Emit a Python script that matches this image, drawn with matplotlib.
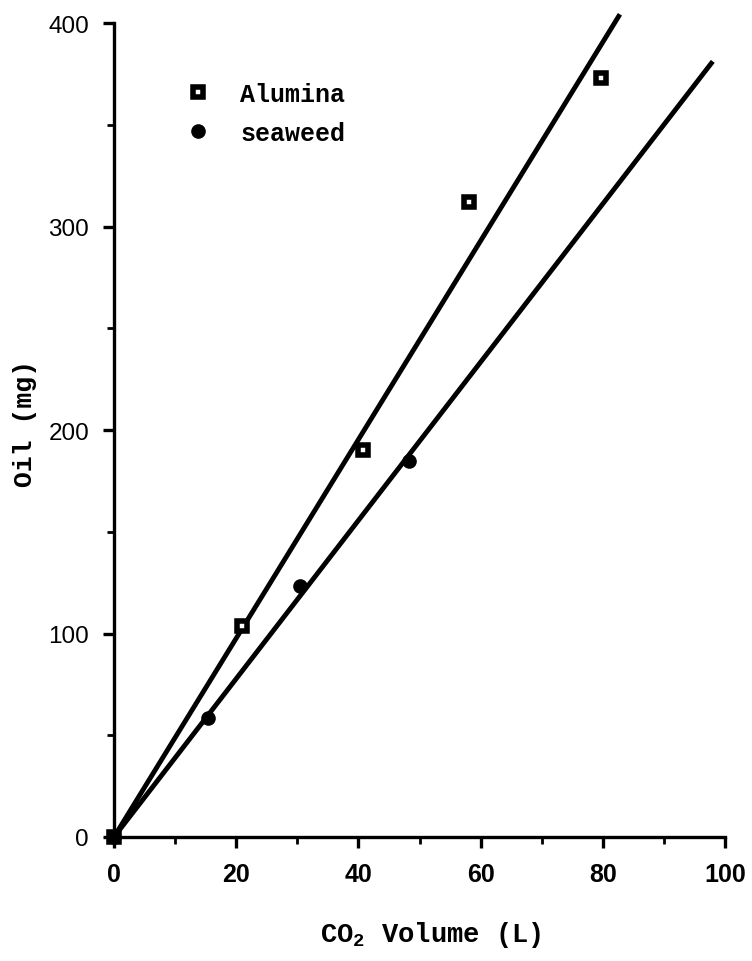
import numpy as np
import matplotlib.pyplot as plt
from matplotlib.ticker import MultipleLocator

# extraction runs: CO2 volume passed (L) vs oil recovered (mg)
alumina_vol = [0.0, 21.0, 40.8, 58.1, 79.7]
alumina_oil = [0.0, 103.5, 190.0, 312.0, 373.0]
seaweed_vol = [0.0, 15.4, 30.4, 48.3]
seaweed_oil = [0.0, 58.5, 123.5, 185.0]

# fitted lines are drawn out to these volumes
alumina_fit_end = 82.8
seaweed_fit_end = 98.0

plt.rcParams['mathtext.fontset'] = 'custom'
plt.rcParams['mathtext.rm'] = 'Liberation Mono:bold'

mono = 'Liberation Mono'
sans = 'Liberation Sans'


def fit_origin(x, y):
    # least squares slope for a line forced through zero
    x = np.array(x)
    y = np.array(y)
    return np.sum(x*y)/np.sum(x*x)


fig = plt.figure(figsize=(7.52, 9.62), dpi=100)
ax = fig.add_axes([0.1516, 0.1289, 0.8125, 0.8461])

ka = fit_origin(alumina_vol, alumina_oil)
ks = fit_origin(seaweed_vol, seaweed_oil)
xa = np.array([0, alumina_fit_end])
xs = np.array([0, seaweed_fit_end])
ax.plot(xa, ka*xa, c='k', lw=3.5, clip_on=False, solid_capstyle='butt')
ax.plot(xs, ks*xs, c='k', lw=3.5, clip_on=False, solid_capstyle='butt')

ax.plot(alumina_vol, alumina_oil, ls='none', marker='s', ms=7, mfc='w', mec='k', mew=4,
        clip_on=False, zorder=5, label='Alumina')
ax.plot(seaweed_vol, seaweed_oil, ls='none', marker='o', ms=9.5, mfc='k', mec='k',
        clip_on=False, zorder=5, label='seaweed')

ax.set_xlim(0, 100)
ax.set_ylim(0, 400)
ax.spines['top'].set_visible(False)
ax.spines['right'].set_visible(False)
ax.spines['left'].set_linewidth(2.4)
ax.spines['bottom'].set_linewidth(2.4)

ax.xaxis.set_major_locator(MultipleLocator(20))
ax.xaxis.set_minor_locator(MultipleLocator(10))
ax.yaxis.set_major_locator(MultipleLocator(100))
ax.yaxis.set_minor_locator(MultipleLocator(50))
ax.tick_params(which='major', direction='out', length=8, width=2.4)
ax.tick_params(which='minor', direction='out', length=5, width=2.0)
ax.tick_params(axis='x', which='major', pad=10)
ax.tick_params(axis='y', which='major', pad=10)

for lab in ax.get_xticklabels():
    lab.set_fontfamily(sans)
    lab.set_fontweight('bold')
    lab.set_fontsize(18)
for lab in ax.get_yticklabels():
    lab.set_fontfamily(sans)
    lab.set_fontsize(17.5)

ax.set_xlabel('CO$_{\\mathregular{2}}$ Volume (L)', fontfamily=mono, fontweight='bold',
              fontsize=19.5)
ax.set_ylabel('Oil (mg)', fontfamily=mono, fontweight='bold', fontsize=19)
ax.xaxis.set_label_coords(0.519, -0.101)
ax.yaxis.set_label_coords(-0.126, 0.509)

leg = ax.legend(loc='upper left', bbox_to_anchor=(0.08, 0.955), frameon=False,
                prop={'family': mono, 'weight': 'bold', 'size': 18},
                handlelength=1.0, handletextpad=1.2, labelspacing=0.6)

fig.savefig('out.png', dpi=100)
